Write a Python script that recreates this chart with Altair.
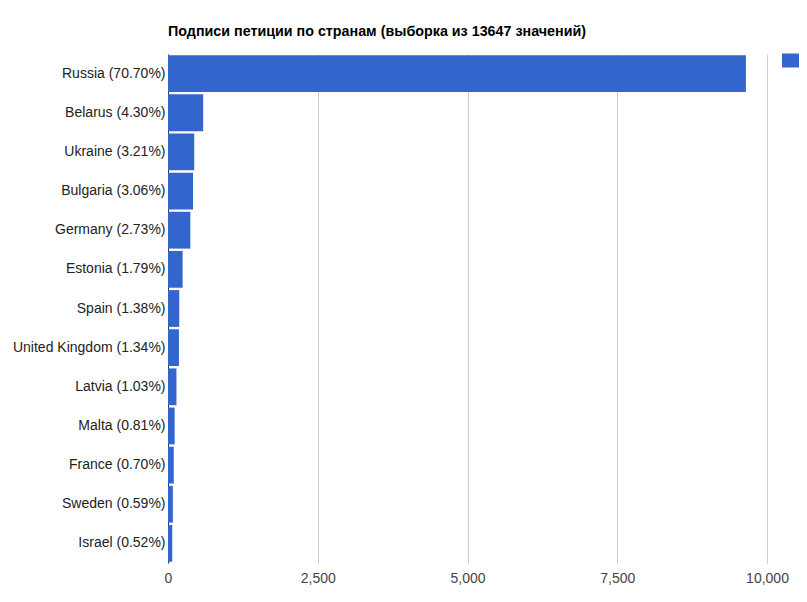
import altair as alt
import pandas as pd

countries = ["Russia (70.70%)", "Belarus (4.30%)", "Ukraine (3.21%)", "Bulgaria (3.06%)",
             "Germany (2.73%)", "Estonia (1.79%)", "Spain (1.38%)", "United Kingdom (1.34%)",
             "Latvia (1.03%)", "Malta (0.81%)", "France (0.70%)", "Sweden (0.59%)",
             "Israel (0.52%)"]
counts = [9648, 587, 438, 418, 373, 244, 188, 183, 141, 111, 96, 81, 71]
x_ticks = [0, 2500, 5000, 7500, 10000]
series_name = ["Количество"]

df = pd.DataFrame({"country": countries, "count": counts, "series": series_name * len(countries)})

FONT = "Arial, Liberation Sans, sans-serif"

chart = alt.Chart(df).mark_bar(color="#3366cc").encode(
    y=alt.Y("country:N", sort=countries,
            scale=alt.Scale(paddingInner=0.06, paddingOuter=0.03),
            axis=alt.Axis(title=None, ticks=False, labelPadding=3, domainColor="#333333",
                          labelFont=FONT, labelFontSize=14, labelColor="#222222", labelLimit=200)),
    x=alt.X("count:Q", scale=alt.Scale(domain=[0, 10000], nice=False),
            axis=alt.Axis(title=None, values=x_ticks, format=",.0f", domain=False, ticks=False,
                          gridColor="#cccccc", labelPadding=8, labelFont=FONT, labelFontSize=14,
                          labelColor="#444444", labelFlush=False)),
    color=alt.Color("series:N", scale=alt.Scale(range=["#3366cc"]),
                    legend=alt.Legend(title=None, orient="none", legendX=614, legendY=-6,
                                      symbolType="M-1,-0.56H1V0.56H-1Z", symbolSize=625,
                                      symbolStrokeWidth=0, labelFont=FONT, labelFontSize=14,
                                      labelExpr="''", labelColor="#222222")),
).properties(
    width=599, height=509,
    title=alt.Title("Подписи петиции по странам (выборка из 13647 значений)", anchor="start",
                    frame="group", font=FONT, fontSize=14.3, fontWeight="bold", color="#000000",
                    offset=9),
    autosize=alt.AutoSizeParams(type="none"),
    padding={"left": 160, "top": 46, "right": 32, "bottom": 28},
).configure_view(stroke=None)

chart.save("out.html", embed_options={"renderer": "svg", "actions": False})
